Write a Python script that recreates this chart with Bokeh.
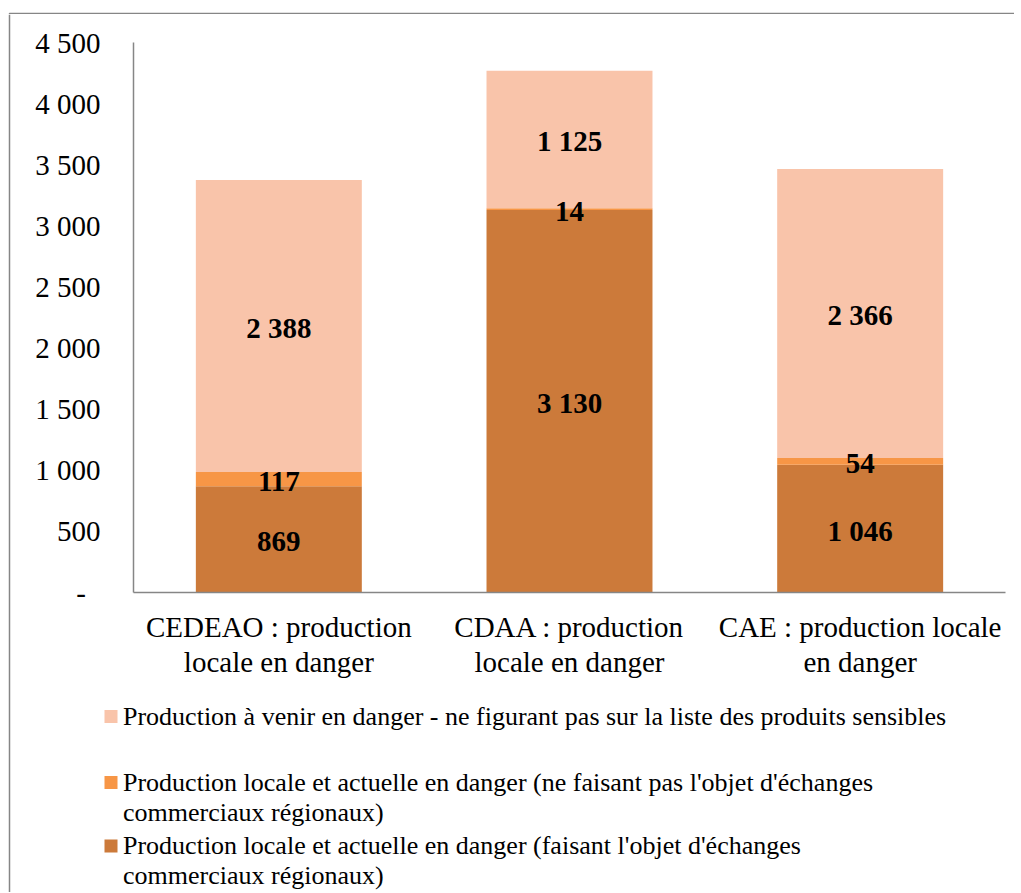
from bokeh.plotting import figure
from bokeh.models import FactorRange, Range1d, FixedTicker, ColumnDataSource
from bokeh.layouts import column, row
from bokeh.core.properties import value
from bokeh.embed import file_html
from bokeh.resources import INLINE

# ---- data ----
categories = ["CEDEAO : production\nlocale en danger",
              "CDAA : production\nlocale en danger",
              "CAE : production locale\nen danger"]
traded = [869, 3130, 1046]          # faisant l'objet d'échanges
not_traded = [117, 14, 54]          # ne faisant pas l'objet d'échanges
future = [2388, 1125, 2366]         # production à venir
value_labels_traded = ["869", "3 130", "1 046"]
value_labels_not_traded = ["117", "14", "54"]
value_labels_future = ["2 388", "1 125", "2 366"]
y_ticks = [0, 500, 1000, 1500, 2000, 2500, 3000, 3500, 4000, 4500]
y_tick_labels = ["-\u2007", "500", "1 000", "1 500", "2 000", "2 500", "3 000", "3 500", "4 000", "4 500"]
legend_lines = [
    ["Production à venir en danger - ne figurant pas sur la liste des produits sensibles"],
    ["Production locale et actuelle en danger (ne faisant pas l'objet d'échanges", "commerciaux régionaux)"],
    ["Production locale et actuelle en danger (faisant l'objet d'échanges", "commerciaux régionaux)"],
]
colors = {"traded": "#CC7A3A", "not_traded": "#F79646", "future": "#F9C4AA"}

FONT = "Liberation Serif"
AXIS_GREY = "#868686"

TOTAL_W = 1014
TOP_H = 14
LEFT_W = 12
CHART_W, CHART_H = TOTAL_W - LEFT_W, 666
LEG_H = 212


def blank(w, h):
    f = figure(width=w, height=h, x_range=Range1d(0, w), y_range=Range1d(h, 0),
               output_backend="svg", toolbar_location=None,
               x_axis_location=None, y_axis_location=None, min_border=0)
    f.outline_line_color = None
    f.grid.visible = False
    return f


# ---- border strips (top + left edge of chart area) ----
top = blank(TOTAL_W, TOP_H)
top.line([9, 9, TOTAL_W], [TOP_H, 13, 13], line_color=AXIS_GREY, line_width=1.5)
left = blank(LEFT_W, CHART_H + LEG_H)
left.line([9, 9], [0, CHART_H + LEG_H], line_color=AXIS_GREY, line_width=1.5)

# ---- chart ----
FL, FR, FT, FB = 121, 993, 28, 581
p = figure(x_range=FactorRange(*categories), y_range=Range1d(0, 4500),
           width=CHART_W, height=CHART_H, output_backend="svg", toolbar_location=None,
           min_border_left=FL, min_border_right=CHART_W - FR, min_border_top=FT,
           min_border_bottom=CHART_H - FB)
p.outline_line_color = None
p.xgrid.visible = False
p.ygrid.visible = False

src = ColumnDataSource(dict(cat=categories, traded=traded, not_traded=not_traded, future=future))
p.vbar_stack(["traded", "not_traded", "future"], x="cat", width=0.571, source=src,
             color=[colors["traded"], colors["not_traded"], colors["future"]],
             line_color=None)

mid_traded = [t / 2 for t in traded]
mid_not = [t + n / 2 for t, n in zip(traded, not_traded)]
mid_future = [t + n + f / 2 for t, n, f in zip(traded, not_traded, future)]
lab_src = ColumnDataSource(dict(
    x=categories * 3,
    y=mid_traded + mid_not + mid_future,
    t=value_labels_traded + value_labels_not_traded + value_labels_future))
p.text(x="x", y="y", text="t", source=lab_src, text_font=value(FONT), text_font_style="bold",
       text_font_size="29px", text_align="center", text_baseline="middle", y_offset=2,
       text_color="black")

p.yaxis.ticker = FixedTicker(ticks=y_ticks)
p.yaxis.major_label_overrides = {t: l for t, l in zip(y_ticks, y_tick_labels)}
p.yaxis.axis_line_color = AXIS_GREY
p.yaxis.axis_line_width = 1.5
p.yaxis.major_tick_line_color = None
p.yaxis.minor_tick_line_color = None
p.yaxis.major_tick_out = 0
p.yaxis.major_label_standoff = 33
p.yaxis.major_label_text_font = FONT
p.yaxis.major_label_text_font_size = "29px"
p.yaxis.major_label_text_color = "black"

p.xaxis.axis_line_color = AXIS_GREY
p.xaxis.axis_line_width = 1.5
p.xaxis.major_tick_line_color = None
p.xaxis.major_tick_out = 0
p.xaxis.major_label_standoff = 18
p.xaxis.major_label_text_font = FONT
p.xaxis.major_label_text_font_size = "29px"
p.xaxis.major_label_text_color = "black"
p.xaxis.major_label_text_line_height = 1.1

# ---- legend (manual, pixel coordinates) ----
leg = blank(CHART_W, LEG_H)
leg_colors = [colors["future"], colors["not_traded"], colors["traded"]]
sq_y = [36, 102, 165.5]
first_line_y = [35.5, 101.5, 165]
line_gap = 30
leg.rect(x=[98.5] * 3, y=sq_y, width=13, height=13, color=leg_colors, line_color=None)
tx, ty, tt = [], [], []
for lines, y0 in zip(legend_lines, first_line_y):
    for i, ln in enumerate(lines):
        tx.append(110.5)
        ty.append(y0 + i * line_gap)
        tt.append(ln)
leg.text(x=tx, y=ty, text=tt, text_font=value(FONT), text_font_size="26px",
         text_align="left", text_baseline="middle", text_color="black")

right = column(row(p, spacing=0), row(leg, spacing=0), spacing=0)
layout = column(top, row(left, right, spacing=0), spacing=0)
open("out.html", "w").write(file_html(layout, INLINE))
